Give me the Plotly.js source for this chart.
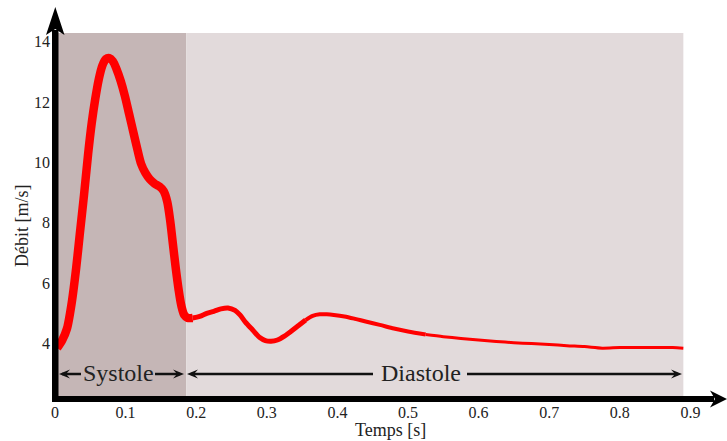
<!DOCTYPE html>
<html>
<head>
<meta charset="utf-8">
<script src="https://cdn.plot.ly/plotly-3.0.1.min.js"></script>
<style>html,body{margin:0;padding:0;background:#fff;}#chart{width:727px;height:441px;}</style>
</head>
<body>
<div id="chart"></div>
<script>
// ---- data ----
const timeS = [0.003, 0.01, 0.017, 0.024, 0.03, 0.035, 0.041, 0.047, 0.052, 0.057, 0.062, 0.067, 0.072, 0.077, 0.082, 0.087, 0.093, 0.099, 0.105, 0.111, 0.117, 0.122, 0.128, 0.134, 0.141, 0.148, 0.154, 0.159, 0.163, 0.167, 0.171, 0.175, 0.179, 0.183, 0.188, 0.195, 0.205, 0.215, 0.225, 0.235, 0.245, 0.255, 0.262, 0.27, 0.28, 0.29, 0.298, 0.306, 0.315, 0.325, 0.335, 0.345, 0.355, 0.365, 0.375, 0.385, 0.395, 0.41, 0.425, 0.44, 0.46, 0.48, 0.5, 0.525, 0.55, 0.575, 0.6, 0.625, 0.65, 0.675, 0.7, 0.725, 0.75, 0.775, 0.8, 0.825, 0.85, 0.875, 0.89];
const debit = [3.85, 4.1, 4.5, 5.4, 6.5, 7.6, 8.9, 10.3, 11.3, 12.1, 12.75, 13.2, 13.42, 13.45, 13.35, 13.1, 12.7, 12.2, 11.6, 11.0, 10.4, 9.95, 9.65, 9.45, 9.3, 9.2, 9.05, 8.7, 8.1, 7.3, 6.5, 5.8, 5.25, 4.95, 4.85, 4.85, 4.9, 5.0, 5.07, 5.15, 5.18, 5.1, 4.95, 4.7, 4.45, 4.2, 4.1, 4.08, 4.12, 4.25, 4.42, 4.6, 4.78, 4.92, 4.97, 4.97, 4.95, 4.9, 4.82, 4.73, 4.62, 4.5, 4.4, 4.3, 4.23, 4.17, 4.12, 4.07, 4.03, 4.0, 3.97, 3.93, 3.9, 3.85, 3.87, 3.87, 3.87, 3.87, 3.85];
const xTickVals = [0, 0.1, 0.2, 0.3, 0.4, 0.5, 0.6, 0.7, 0.8, 0.9];
const xTickText = ['0', '0.1', '0.2', '0.3', '0.4', '0.5', '0.6', '0.7', '0.8', '0.9'];
const yTickVals = [4, 6, 8, 10, 12, 14];
const yTickText = ['4', '6', '8', '10', '12', '14'];
const phaseLabels = ['Systole', 'Diastole'];
const phaseBounds = [0.004, 0.186, 0.89];
const xTitle = 'Temps [s]';
const yTitle = 'Débit [m/s]';

// ---- geometry helpers ----
const W = 727, H = 441, ML = 55, MR = 0, MT = 5, MB = 41;
const PW = W - ML - MR, PH = H - MT - MB;
const PXU = 706;           // px per second
const Y4 = 343.6, PYU = 30.2; // px pos of 4, px per unit
const PX = px => (px - ML) / PW;          // paper x
const PY = py => (H - MB - py) / PH;      // paper y
const xRange = [0, PW / PXU];
const yRange = [4 - (H - MB - Y4) / PYU, 4 + (Y4 - MT) / PYU];
const tx = px => (px - ML) / PXU;
const vy = py => 4 + (Y4 - py) / PYU;

function path(pts) {
  return 'M ' + pts.map(p => PX(p[0]) + ',' + PY(p[1])).join(' L ') + ' Z';
}

const red = '#ff0000';
// split curve by stroke width (drawn thicker during systole)
const cuts = [0, 35, 52, 63, timeS.length];
const widths = [8.5, 5, 4, 3];
const traces = [];
for (let i = 0; i < widths.length; i++) {
  const a = cuts[i], b = Math.min(cuts[i + 1] + 1, timeS.length);
  traces.push({
    x: timeS.slice(a, b), y: debit.slice(a, b), type: 'scatter', mode: 'lines',
    line: {color: red, width: widths[i], shape: 'spline', smoothing: 0.8},
    hoverinfo: 'skip', showlegend: false
  });
}

const arrowY = 374;
const shapes = [
  {type: 'rect', xref: 'x', yref: 'y', x0: phaseBounds[0], x1: phaseBounds[1], y0: vy(396), y1: vy(33), fillcolor: '#c5b6b6', line: {width: 0}, layer: 'below'},
  {type: 'rect', xref: 'x', yref: 'y', x0: phaseBounds[1], x1: phaseBounds[2], y0: vy(396), y1: vy(33), fillcolor: '#e2dadb', line: {width: 0}, layer: 'below'},
  // axes
  {type: 'rect', xref: 'paper', yref: 'paper', x0: PX(52), x1: PX(58.5), y0: PY(402), y1: PY(30), fillcolor: '#000', line: {width: 0}},
  {type: 'path', xref: 'paper', yref: 'paper', path: path([[55.3, 7], [64.5, 35], [55.3, 29], [46, 35]]), fillcolor: '#000', line: {width: 0}},
  {type: 'rect', xref: 'paper', yref: 'paper', x0: PX(52), x1: PX(714), y0: PY(402), y1: PY(396), fillcolor: '#000', line: {width: 0}},
  {type: 'path', xref: 'paper', yref: 'paper', path: path([[727, 399], [710, 390.5], [715, 399], [710, 407.5]]), fillcolor: '#000', line: {width: 0}},
  // systole arrows
  {type: 'line', xref: 'paper', yref: 'paper', x0: PX(62), x1: PX(81), y0: PY(arrowY), y1: PY(arrowY), line: {color: '#111', width: 2.5}},
  {type: 'path', xref: 'paper', yref: 'paper', path: path([[59, arrowY], [70, arrowY - 4.5], [66, arrowY], [70, arrowY + 4.5]]), fillcolor: '#111', line: {width: 0}},
  {type: 'line', xref: 'paper', yref: 'paper', x0: PX(155), x1: PX(180), y0: PY(arrowY), y1: PY(arrowY), line: {color: '#111', width: 2.5}},
  {type: 'path', xref: 'paper', yref: 'paper', path: path([[184, arrowY], [173, arrowY - 4.5], [177, arrowY], [173, arrowY + 4.5]]), fillcolor: '#111', line: {width: 0}},
  // diastole arrows
  {type: 'line', xref: 'paper', yref: 'paper', x0: PX(191), x1: PX(373), y0: PY(arrowY), y1: PY(arrowY), line: {color: '#111', width: 2.5}},
  {type: 'path', xref: 'paper', yref: 'paper', path: path([[187, arrowY], [198, arrowY - 4.5], [194, arrowY], [198, arrowY + 4.5]]), fillcolor: '#111', line: {width: 0}},
  {type: 'line', xref: 'paper', yref: 'paper', x0: PX(467), x1: PX(678), y0: PY(arrowY), y1: PY(arrowY), line: {color: '#111', width: 2.5}},
  {type: 'path', xref: 'paper', yref: 'paper', path: path([[682, arrowY], [671, arrowY - 4.5], [675, arrowY], [671, arrowY + 4.5]]), fillcolor: '#111', line: {width: 0}}
];

const serif = '"Liberation Serif", "Times New Roman", serif';
const annotations = [
  {xref: 'x', yref: 'y', x: tx(118), y: vy(373), text: phaseLabels[0], showarrow: false, font: {family: serif, size: 24, color: '#222'}},
  {xref: 'x', yref: 'y', x: tx(421), y: vy(373), text: phaseLabels[1], showarrow: false, font: {family: serif, size: 24, color: '#222'}},
  {xref: 'paper', yref: 'paper', x: PX(22), y: PY(226), xanchor: 'center', yanchor: 'middle', text: yTitle, textangle: -90, showarrow: false, font: {family: serif, size: 18, color: '#222'}},
  {xref: 'paper', yref: 'paper', x: PX(390), y: PY(430), xanchor: 'center', yanchor: 'middle', text: xTitle, showarrow: false, font: {family: serif, size: 18, color: '#222'}}
];

const layout = {
  width: W, height: H,
  margin: {l: ML, r: MR, t: MT, b: MB, pad: 0},
  paper_bgcolor: '#fff', plot_bgcolor: 'rgba(0,0,0,0)',
  showlegend: false,
  xaxis: {range: xRange, tickvals: xTickVals, ticktext: xTickText, showgrid: false, zeroline: false, showline: false,
          ticks: '', ticklabelstandoff: 1, tickfont: {family: serif, size: 16, color: '#222'}},
  yaxis: {range: yRange, tickvals: yTickVals, ticktext: yTickText, showgrid: false, zeroline: false, showline: false,
          ticks: '', ticklabelstandoff: 4, tickfont: {family: serif, size: 16, color: '#222'}},
  shapes: shapes,
  annotations: annotations
};

Plotly.newPlot('chart', traces, layout, {displayModeBar: false, staticPlot: true});
</script>
</body>
</html>
